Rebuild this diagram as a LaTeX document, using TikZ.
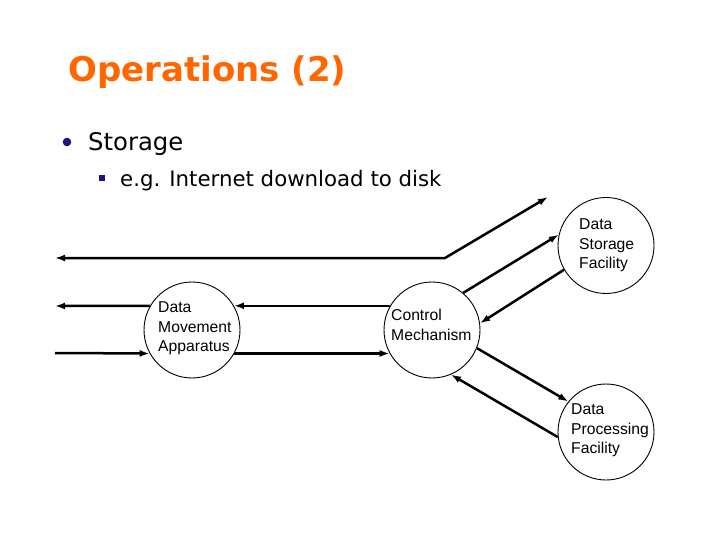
\documentclass[tikz,border=0pt]{standalone}
\usepackage{fontspec}
\setmainfont{DejaVu Sans}
\newfontfamily\circfont{Liberation Sans}
\usetikzlibrary{arrows.meta}
\definecolor{titleorange}{RGB}{255,102,0}
\definecolor{bulletblue}{RGB}{30,20,130}
\tikzset{
  circ/.style={circle, draw, line width=0.9pt, minimum size=96pt, inner sep=0pt},
  lbl/.style={anchor=west, align=left, inner sep=0pt, font=\circfont\fontsize{15.7}{19.7}\selectfont},
  tip/.tip={Latex[length=10pt,width=7pt]},
  conn/.style={line width=2.5pt, -tip},
  conn2/.style={line width=2.5pt, tip-tip}
}
\begin{document}
\begin{tikzpicture}[x=1pt,y=-1pt]
\useasboundingbox (0,0) rectangle (720,540);
% title and bullets
\node[anchor=base west, inner sep=0pt, text=titleorange, font=\bfseries\fontsize{34}{36}\selectfont] (title) at (68,82) {Operations (2)};
\fill[bulletblue] (67,142) circle (4.3);
\node[anchor=base west, inner sep=0pt, font=\fontsize{24.3}{28}\selectfont] (t1) at (88,151) {Storage};
\fill[bulletblue] (99,175) rectangle (105,181);
\node[anchor=base west, inner sep=0pt, font=\fontsize{21.3}{24}\selectfont] (t2) at (120,187) {e.g. Internet download to disk};
% circles
\node[circ] (dma) at (192,330) {};
\node[circ] (cm) at (432,330) {};
\node[circ] (dsf) at (606,245.5) {};
\node[circ] (dpf) at (606,432) {};
\node[lbl] (dmat) at (158,328.5) {Data\\Movement\\Apparatus};
\node[lbl] (cmt) at (391,325) {Control\\Mechanism};
\node[lbl] (dsft) at (579,245.5) {Data\\Storage\\Facility};
\node[lbl] (dpft) at (571,430.5) {Data\\Processing\\Facility};
% free ends
\coordinate (l1) at (55,258);
\coordinate (bend) at (445,258);
\coordinate (r1) at (548,197);
\coordinate (l2) at (55,306);
\coordinate (l3) at (55,353);
% connectors
\draw[conn2, line join=miter] (l1) -- (bend) -- (r1);
\draw[conn] (dma.150) -- (l2);
\draw[conn] (cm.150) -- (dma.30);
\draw[conn] (l3) -- (dma.209);
\draw[conn] (dma.-29) -- (cm.209);
\draw[conn] (cm.50) -- (dsf.167.7);
\draw[conn] (dsf.210) -- (cm.8);
\draw[conn] (cm.-22.7) -- (dpf.141);
\draw[conn] (dpf.186) -- (cm.-67);
\end{tikzpicture}
\end{document}
